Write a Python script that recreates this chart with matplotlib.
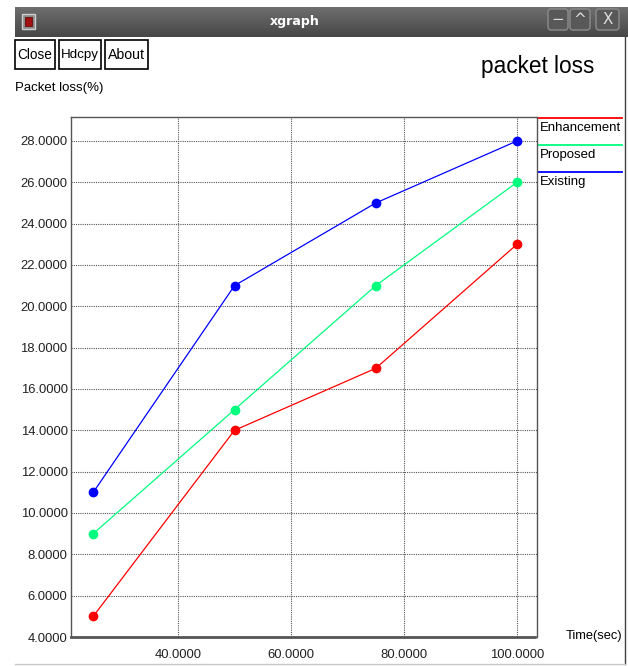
import numpy as np
import matplotlib.pyplot as plt
from matplotlib.colors import LinearSegmentedColormap
from matplotlib.patches import Rectangle, FancyBboxPatch

# packet loss vs simulation time
time_sec = [25, 50, 75, 100]
enhancement = [5, 14, 17, 23]
proposed = [9, 15, 21, 26]
existing = [11, 21, 25, 28]

series_names = ['Enhancement', 'Proposed', 'Existing']
series_colors = ['#ff0000', '#00ff7f', '#0000ff']

x_ticks = [40, 60, 80, 100]
y_ticks = [4, 6, 8, 10, 12, 14, 16, 18, 20, 22, 24, 26, 28]

plt.rcParams['font.family'] = ['Liberation Sans', 'DejaVu Sans']

W, H = 628, 666
fig = plt.figure(figsize=(W / 100, H / 100), dpi=100)
fig.patch.set_facecolor('white')
renderer = fig.canvas.get_renderer()


def fit(t, width_px):
    # shrink a text until it spans the given width in pixels
    w = t.get_window_extent(renderer).width
    t.set_fontsize(t.get_fontsize() * width_px / w)
    return t


# window chrome drawn in pixel coordinates
ov = fig.add_axes([0, 0, 1, 1])
ov.set_xlim(0, W)
ov.set_ylim(H, 0)
ov.axis('off')

grad = np.linspace(0, 1, 30).reshape(-1, 1)
ov.imshow(grad, cmap=LinearSegmentedColormap.from_list('bar', ['#6e6e6e', '#474747']),
          extent=[15, W, 37, 7], aspect='auto', zorder=1)
fit(ov.text(295, 21, 'xgraph', color='white', fontsize=11, fontweight='bold',
            family='DejaVu Sans', ha='center', va='center', zorder=3), 50)

# window icon
ov.add_patch(Rectangle((22, 14), 13, 15, facecolor='#8a8a8a', edgecolor='#cfcfcf', lw=1, zorder=2))
ov.add_patch(Rectangle((25, 17), 7, 9, facecolor='#a01010', edgecolor='#600000', lw=0.5, zorder=3))

# minimise / maximise / close
for x0, x1, lab in [(548, 568, '\u2212'), (570, 590, '^'), (596, 619, 'X')]:
    ov.add_patch(FancyBboxPatch((x0, 9), x1 - x0, 21, boxstyle='round,pad=0,rounding_size=3',
                                facecolor='#585858', edgecolor='#8c8c8c', lw=1, zorder=2))
    ov.text((x0 + x1) / 2, 19.5, lab, color='#dddddd', fontsize=11,
            family='DejaVu Sans', ha='center', va='center', zorder=3)

# window border
ov.plot([625, 625], [37, 664], color='#404040', lw=1, zorder=2)
ov.plot([15, 625], [664, 664], color='#c8c8c8', lw=1, zorder=2)

# xgraph buttons
for x0, x1, lab, tw in [(15, 55, 'Close', 35), (59, 101, 'Hdcpy', 38), (105, 148, 'About', 37)]:
    ov.add_patch(Rectangle((x0, 40), x1 - x0, 29, facecolor='white', edgecolor='black', lw=1.2, zorder=2))
    fit(ov.text((x0 + x1) / 2, 55, lab, fontsize=12, ha='center', va='center', zorder=3), tw)

fit(ov.text(538, 67, 'packet loss', fontsize=21, ha='center', va='center'), 113)
fit(ov.text(15, 88, 'Packet loss(%)', fontsize=12, ha='left', va='center'), 89)
fit(ov.text(566, 636, 'Time(sec)', fontsize=12, ha='left', va='center'), 57)

# legend on the right of the plot
for i, (name, col, tw) in enumerate(zip(series_names, series_colors, [81, 57, 46])):
    y = 118 + 27 * i
    ov.plot([538, 622], [y, y], color=col, lw=1.3)
    fit(ov.text(540, y + 10, name, fontsize=12, ha='left', va='center'), tw)

# plot area
ax = fig.add_axes([71 / W, 1 - 637 / H, (537 - 71) / W, (637 - 117) / H])
for vals, col in zip([enhancement, proposed, existing], series_colors):
    ax.plot(time_sec, vals, color=col, lw=0.9, marker='o', markersize=6,
            markeredgecolor=col, zorder=3)

ax.set_xlim(21.06, 103.54)
ax.set_ylim(4, 29.16)
ax.set_xticks(x_ticks)
ax.set_yticks(y_ticks)
ax.set_xticklabels(['%.4f' % v for v in x_ticks])
ax.set_yticklabels(['%.4f' % v for v in y_ticks])
ax.tick_params(length=0, labelsize=9.4, colors='#222222')
ax.tick_params(axis='x', pad=8.5)
ax.tick_params(axis='y', pad=2.5)
ax.grid(True, color='#555555', lw=0.8, linestyle=(0, (1, 1)))
for sp in ax.spines.values():
    sp.set_color('#555555')
    sp.set_linestyle((0, (1, 1)))
    sp.set_linewidth(1.0)
ax.spines['bottom'].set_linewidth(2.0)
ax.set_facecolor('none')

fig.savefig('out.png', dpi=100)
